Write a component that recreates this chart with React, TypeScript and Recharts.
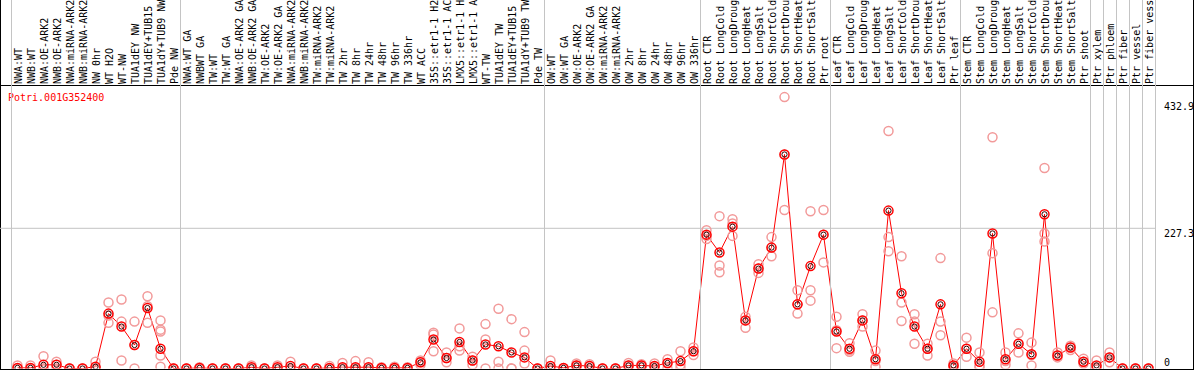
import React from 'react';
import { ComposedChart, Line, Scatter, XAxis, YAxis, ReferenceLine, Customized } from 'recharts';

const categories = [
  'NWA:WT', 'NWB:WT', 'NWA:OE-ARK2', 'NWB:OE-ARK2', 'NWA:miRNA-ARK2', 'NWB:miRNA-ARK2', 'NW 0hr', 'WT H2O', 'WT-NW',
  'TUA1dEY NW', 'TUA1dEY+TUB15 NW', 'TUA1dY+TUB9 NW', 'Pde NW',
  'NWA:WT GA', 'NWBWT GA', 'TW:WT', 'TW:WT GA', 'NWA:OE-ARK2 GA', 'NWB:OE-ARK2 GA', 'TW:OE-ARK2', 'TW:OE-ARK2 GA',
  'NWA:miRNA-ARK2 GA', 'NWB:miRNA-ARK2 GA', 'TW:miRNA-ARK2', 'TW:miRNA-ARK2 GA', 'TW 2hr', 'TW 8hr', 'TW 24hr', 'TW 48hr',
  'TW 96hr', 'TW 336hr', 'WT ACC', '35S::etr1-1 H2O', '35S::etr1-1 ACC', 'LMX5::etr1-1 H2O', 'LMX5::etr1-1 ACC', 'WT-TW',
  'TUA1dEY TW', 'TUA1dEY+TUB15 TW', 'TUA1dY+TUB9 TW', 'Pde TW',
  'OW:WT', 'OW:WT GA', 'OW:OE-ARK2', 'OW:OE-ARK2 GA', 'OW:miRNA-ARK2', 'OW:miRNA-ARK2 GA', 'OW 2hr', 'OW 8hr', 'OW 24hr',
  'OW 48hr', 'OW 96hr', 'OW 336hr',
  'Root CTR', 'Root LongCold', 'Root LongDrought', 'Root LongHeat', 'Root LongSalt', 'Root ShortCold', 'Root ShortDrought',
  'Root ShortHeat', 'Root ShortSalt', 'Ptr root',
  'Leaf CTR', 'Leaf LongCold', 'Leaf LongDrought', 'Leaf LongHeat', 'Leaf LongSalt', 'Leaf ShortCold', 'Leaf ShortDrought',
  'Leaf ShortHeat', 'Leaf ShortSalt', 'Ptr leaf',
  'Stem CTR', 'Stem LongCold', 'Stem LongDrought', 'Stem LongHeat', 'Stem LongSalt', 'Stem ShortCold', 'Stem ShortDrought',
  'Stem ShortHeat', 'Stem ShortSalt', 'Ptr shoot',
  'Ptr xylem', 'Ptr phloem', 'Ptr fiber', 'Ptr vessel', 'Ptr fiber vessel',
];

const meanValues = [
  1, 1, 6, 6, 0, 0, 3, 89, 68, 38, 98, 32, 0,
  0, 1, 0, 0, 0, 2, 0, 2, 4, 0, 0, 1, 2, 2, 2, 1, 1, 1, 10, 47, 17, 43, 13, 39, 36, 26, 18, 0,
  4, 1, 5, 4, 0, 0, 5, 5, 4, 9, 12, 28,
  217, 188, 230, 78, 162, 196, 347, 104, 166, 217,
  60, 32, 78, 15, 256, 122, 68, 32, 104, 5,
  32, 11, 219, 15, 40, 23, 250, 21, 34, 11,
  5, 18, 0, 0, 0,
];

const replicateValues = [
  [5, 0, 0], [5, 0, 0], [20, 0, 0], [11, 6, 0], [0, 0, 0], [0, 0, 0], [11, 0, 0], [107, 86, 74], [112, 76, 13],
  [76, 38, 0], [117, 101, 74], [78, 63, 60, 21, 3], [0, 0, 0],
  [0, 0, 0], [2, 0, 0], [0, 0, 0], [0, 0, 0], [0, 0, 0], [5, 0, 0], [0, 0, 0], [5, 0, 0],
  [11, 0, 0], [0, 0, 0], [0, 0, 0], [4, 0, 0], [9, 0, 0], [12, 0, 0], [10, 0, 0], [2, 0, 0],
  [3, 0, 0], [2, 0, 0], [13, 10, 6], [58, 55, 28], [26, 17, 10], [65, 36, 29], [19, 13, 6], [72, 47, 0],
  [97, 11, 0], [80, 0, 0], [59, 29, 8], [0, 0, 0],
  [13, 0, 0], [1, 0, 0], [8, 5, 2], [7, 4, 0], [0, 0, 0], [0, 0, 0], [9, 5, 2], [7, 5, 3], [8, 3, 0],
  [15, 8, 0], [28, 6, 0], [34, 28, 22],
  [224, 215, 210], [247, 167, 156], [242, 235, 215], [84, 78, 66], [169, 162, 155], [213, 196, 182], [440, 347, 257],
  [127, 104, 89], [255, 127, 110], [257, 217, 172],
  [84, 62, 33], [41, 30, 27], [88, 78, 68], [29, 12, 3], [385, 213, 190], [182, 107, 77], [88, 76, 40],
  [40, 32, 21], [179, 76, 54], [8, 4, 3],
  [50, 32, 19], [26, 5, 2], [375, 187, 91], [26, 12, 6], [57, 40, 26], [42, 22, 5], [325, 219, 206],
  [26, 21, 18], [37, 34, 30], [16, 11, 8],
  [13, 2, 0], [26, 18, 10], [0, 0, 0], [0, 0, 0], [0, 0, 0],
];

const groupStarts = [0, 13, 41, 53, 63, 73, 83, 84, 85, 86, 87];
const yTicks = [0, 227.3, 432.9];
const geneId = 'Potri.001G352400';

const chartData = categories.map((name, i) => ({ idx: i, name, mean: meanValues[i] }));
const repData = replicateValues.flatMap((reps, i) => reps.map((v) => ({ idx: i, v })));
const xTicks = categories.map((_, i) => i);

// layout
const W = 1194;
const H = 370;
const COL_W = 13;
const HEADER_H = 86;
const AXIS_W = 38;
const LABEL_CHARS = 14;
const X_MIN = -0.5 - 11 / COL_W;
const X_MAX = categories.length - 0.5 + 1 / COL_W;
const FONT = '"DejaVu Sans Mono", "Liberation Mono", monospace';
const GRID = '#c4c4c4';

const XTick = (props: any) => {
  const { x, payload } = props;
  const i = payload.value as number;
  const half = COL_W / 2;
  const shown = categories[i].slice(0, LABEL_CHARS).trimEnd();
  return (
    <g>
      {groupStarts.includes(i) && (
        <line x1={x - half} x2={x - half} y1={0} y2={H - 1} stroke={GRID} strokeWidth={1} shapeRendering="crispEdges" />
      )}
      {i === categories.length - 1 && (
        <line x1={x + half} x2={x + half} y1={0} y2={H - 1} stroke={GRID} strokeWidth={1} shapeRendering="crispEdges" />
      )}
      <text transform={`translate(${x + 4},84) rotate(-90)`} fontFamily={FONT} fontSize={10} fill="#000" textAnchor="start">
        {shown}
      </text>
    </g>
  );
};

const YTick = (props: any) => {
  const { y, payload } = props;
  const v = payload.value as number;
  return (
    <text x={W - AXIS_W + 8} y={v === 0 ? y - 3 : y + 9} fontFamily={FONT} fontSize={10} fill="#000" textAnchor="start">
      {v === 0 ? '0' : v.toFixed(1)}
    </text>
  );
};

const MeanDot = (props: any) => {
  const { cx, cy, index } = props;
  if (cx == null || cy == null) return <g key={index} />;
  return (
    <g key={`m${index}`}>
      <circle cx={cx} cy={cy} r={4.5} fill="none" stroke="#ff0000" strokeWidth={1.5} />
      <circle cx={cx} cy={cy} r={2.6} fill="none" stroke="#300000" strokeWidth={1} />
    </g>
  );
};

const RepShape = (props: any) => {
  const { cx, cy } = props;
  return <circle cx={cx} cy={cy} r={4.5} fill="none" stroke="#f29a9a" strokeWidth={1.5} />;
};

const Frame = () => (
  <g>
    <line x1={0.5} x2={0.5} y1={0} y2={H} stroke="#000" strokeWidth={1} />
    <line x1={W - 0.5} x2={W - 0.5} y1={0} y2={H} stroke="#000" strokeWidth={1} />
    <line x1={0} x2={W} y1={85.5} y2={85.5} stroke="#000" strokeWidth={1} />
    <line x1={0} x2={W} y1={369.5} y2={369.5} stroke="#000" strokeWidth={1} />
    <text x={8} y={101} fontFamily={FONT} fontSize={10} fill="#ff0000">
      {geneId}
    </text>
  </g>
);

export default function App() {
  return (
    <div style={{ position: 'absolute', left: 0, top: 0, width: W, height: H, background: '#fff' }}>
      <ComposedChart width={W} height={H} data={chartData} margin={{ top: 0, right: 0, bottom: 1.5, left: 0 }}>
        <XAxis
          xAxisId="x"
          type="number"
          dataKey="idx"
          orientation="top"
          height={HEADER_H}
          domain={[X_MIN, X_MAX]}
          allowDataOverflow
          ticks={xTicks}
          interval={0}
          axisLine={false}
          tickLine={false}
          tick={<XTick />}
        />
        <YAxis
          yAxisId="y"
          orientation="right"
          width={AXIS_W}
          dataKey="v"
          domain={[0, 458]}
          allowDataOverflow
          ticks={yTicks}
          interval={0}
          axisLine={false}
          tickLine={false}
          tick={<YTick />}
        />
        <ReferenceLine xAxisId="x" yAxisId="y" y={227.3} stroke={GRID} strokeWidth={1} />
        <Scatter
          xAxisId="x"
          yAxisId="y"
          data={repData}
          dataKey="v"
          shape={<RepShape />}
          isAnimationActive={false}
        />
        <Line
          xAxisId="x"
          yAxisId="y"
          dataKey="mean"
          stroke="#ff0000"
          strokeWidth={1}
          dot={<MeanDot />}
          activeDot={false}
          isAnimationActive={false}
        />
        <Customized component={Frame} />
      </ComposedChart>
    </div>
  );
}
